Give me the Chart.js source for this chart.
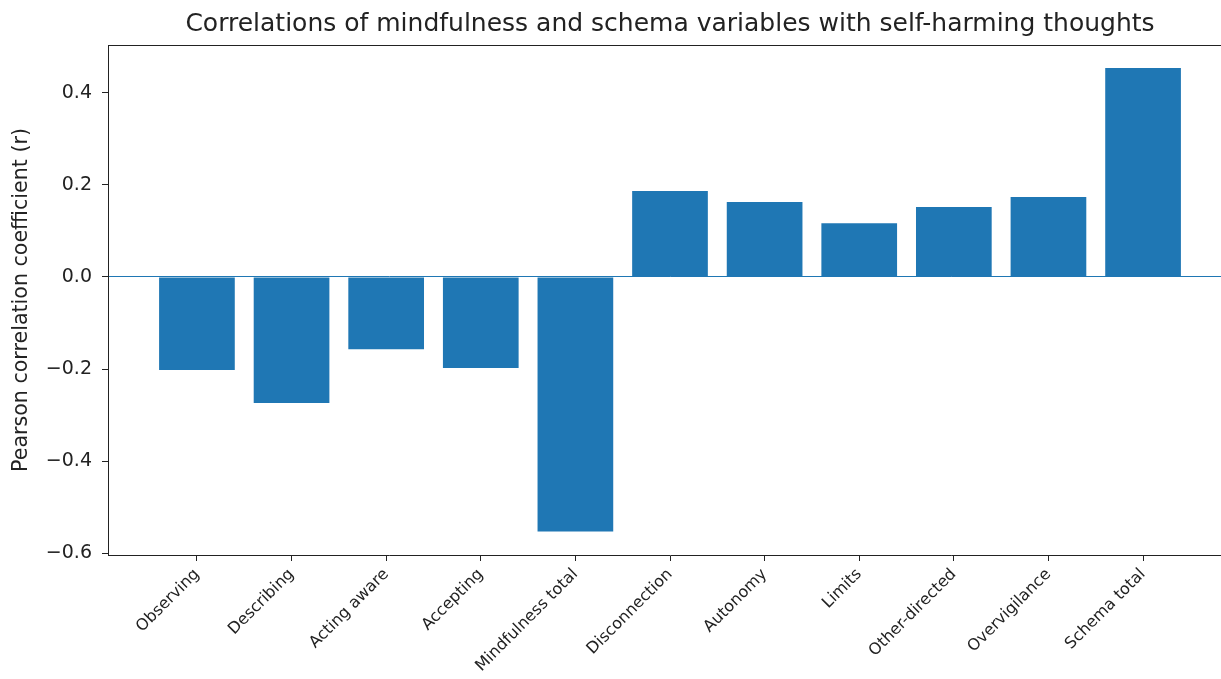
<!DOCTYPE html>
<html>
<head>
<meta charset="utf-8">
<script src="https://cdn.jsdelivr.net/npm/chart.js@4"></script>
<style>
  html, body { margin: 0; padding: 0; background: #fff; overflow: hidden; }
  #wrap { width: 1240px; height: 679px; position: relative; }
</style>
</head>
<body>
<div id="wrap"><canvas id="chartBar"></canvas></div>
<script>
// categories and correlation values
const categories = [
  "Observing", "Describing", "Acting aware", "Accepting", "Mindfulness total",
  "Disconnection", "Autonomy", "Limits", "Other-directed", "Overvigilance", "Schema total"
];
const correlations = [-0.202, -0.274, -0.157, -0.198, -0.553, 0.187, 0.163, 0.117, 0.152, 0.174, 0.454];
const yTicks = [-0.6, -0.4, -0.2, 0.0, 0.2, 0.4];

const barColor = "#1f77b4";
const inkColor = "#222222";

// top spine like matplotlib
const topSpine = {
  id: "topSpine",
  afterDraw(chart) {
    const { ctx, chartArea } = chart;
    ctx.save();
    ctx.strokeStyle = inkColor;
    ctx.lineWidth = 1;
    ctx.beginPath();
    ctx.moveTo(chartArea.left, chartArea.top + 0.5);
    ctx.lineTo(chartArea.right, chartArea.top + 0.5);
    ctx.stroke();
    ctx.restore();
  },
};

const dataBar = {
  datasets: [
    {
      label: "Pearson r",
      data: correlations.map((v, i) => ({ x: i, y: v })),
      backgroundColor: barColor,
      borderWidth: 0,
      barPercentage: 0.8,
      categoryPercentage: 1.0,
    },
  ],
};

const configBar = {
  type: "bar",
  data: dataBar,
  plugins: [topSpine],
  options: {
    responsive: true,
    maintainAspectRatio: false,
    animation: false,
    layout: { padding: { left: 0, right: 8, top: 0, bottom: 0 } },
    plugins: {
      legend: { display: false },
      tooltip: { enabled: false },
      title: {
        display: true,
        fullSize: false,
        text: "Correlations of mindfulness and schema variables with self-harming thoughts",
        color: inkColor,
        font: { family: "DejaVu Sans", size: 25, weight: "normal" },
        padding: { top: 9, bottom: 6 },
      },
    },
    scales: {
      x: {
        type: "linear",
        offset: false,
        min: -0.94,
        max: 10.94,
        afterBuildTicks: (scale) => {
          scale.ticks = categories.map((_, i) => ({ value: i }));
        },
        afterFit: (scale) => {
          scale.height = 124;
        },
        grid: {
          offset: false,
          drawOnChartArea: false,
          color: "rgba(0,0,0,0)",
          tickColor: inkColor,
          tickLength: 6,
        },
        border: { display: true, color: inkColor, width: 1 },
        ticks: {
          autoSkip: false,
          minRotation: 45,
          maxRotation: 45,
          padding: 4,
          color: inkColor,
          font: { family: "DejaVu Sans", size: 16 },
          callback: (v) => categories[v],
        },
      },
      y: {
        min: -0.604,
        max: 0.504,
        afterBuildTicks: (scale) => {
          scale.ticks = yTicks.map((v) => ({ value: v }));
        },
        afterFit: (scale) => {
          scale.width = 108;
        },
        grid: {
          drawOnChartArea: true,
          color: (c) => (c.tick && c.tick.value === 0 ? barColor : "rgba(0,0,0,0)"),
          tickColor: inkColor,
          tickLength: 6,
          lineWidth: 1,
        },
        border: { display: true, color: inkColor, width: 1 },
        ticks: {
          padding: 10,
          color: inkColor,
          font: { family: "DejaVu Sans", size: 19 },
          callback: (v) => v.toFixed(1).replace("-", "\u2212"),
        },
        title: {
          display: true,
          text: "Pearson correlation coefficient (r)",
          color: inkColor,
          font: { family: "DejaVu Sans", size: 20.6 },
          padding: { top: 9, bottom: 0 },
        },
      },
    },
  },
};

const chartBar = new Chart(document.getElementById("chartBar"), configBar);
</script>
</body>
</html>
